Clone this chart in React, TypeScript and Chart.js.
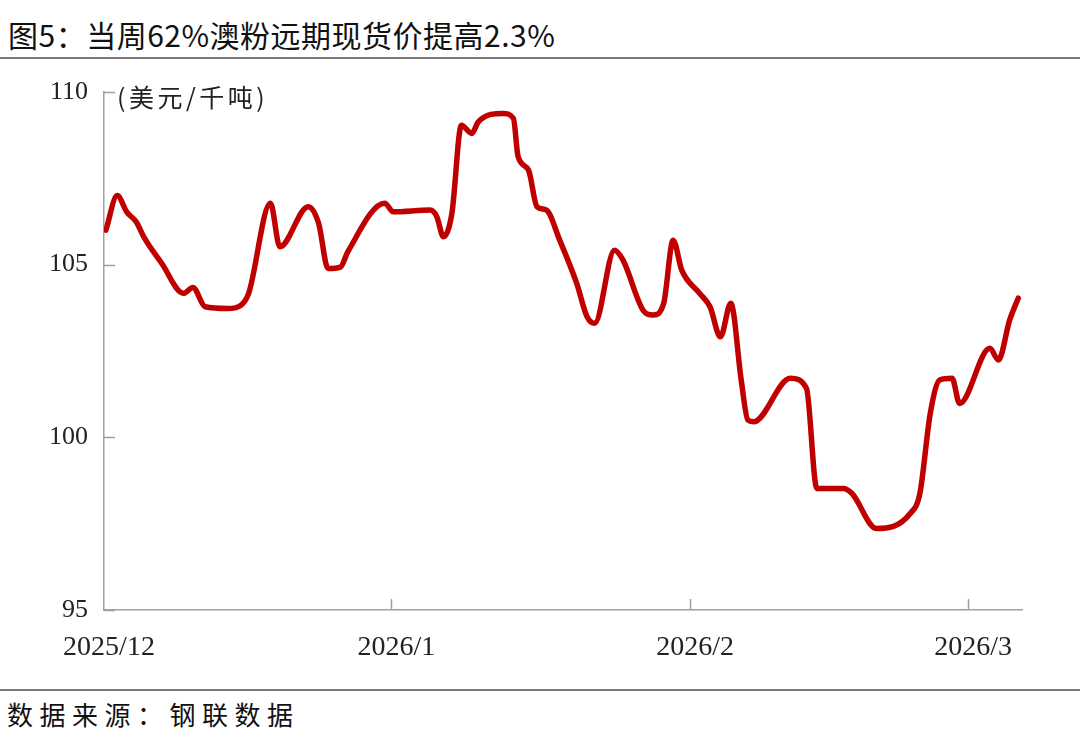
import React, { useEffect, useRef } from "react";
import { Chart, registerables } from "chart.js";

Chart.register(...registerables);

// Horizontal position of each observation (day index from 2025/12 start)
const X_POS = [
  0.2, 1.4, 2.4, 3.4, 4.3, 6.1, 8.4, 9.4, 10.7, 13.1, 14.5, 15.3, 17.6, 18.6,
  21.6, 22.7, 23.7, 25.0, 25.8, 29.7, 30.6, 34.5, 35.2, 35.9, 36.8, 37.8, 38.9,
  39.6, 42.2, 43.3, 43.8, 44.9, 45.8, 46.8, 48.2, 50.0, 51.1, 51.9, 54.0, 54.9,
  57.0, 58.1, 59.2, 60.2, 61.1, 63.0, 64.1, 65.2, 66.3, 67.4, 68.1, 68.7, 72.6,
  74.3, 75.4, 78.2, 79.1, 81.7, 85.3, 86.3, 87.4, 88.4, 89.7, 90.5, 93.7, 94.6,
  95.8, 96.7,
];

// 62% Australian fines forward spot price (USD/t)
const PRICE = [
  106.0, 107.0, 106.53, 106.24, 105.76, 105.04, 104.17, 104.34, 103.78, 103.73,
  103.83, 104.17, 106.78, 105.52, 106.68, 106.2, 104.89, 104.93, 105.38, 106.78,
  106.53, 106.58, 106.39, 105.81, 106.49, 109.04, 108.8, 109.14, 109.38, 109.24,
  108.13, 107.74, 106.68, 106.58, 105.71, 104.46, 103.49, 103.3, 105.42, 105.13,
  103.69, 103.54, 103.88, 105.71, 104.85, 104.17, 103.78, 102.91, 103.88, 101.66,
  100.5, 100.45, 101.71, 101.42, 98.52, 98.52, 98.38, 97.36, 97.8, 98.38, 100.7,
  101.66, 101.71, 100.98, 102.58, 102.24, 103.4, 104.03,
];

const MONTH_TICK_X = [0, 30.4, 62.0, 91.4];
const MONTH_LABELS = ["2025/12", "2026/1", "2026/2", "2026/3"];
const Y_TICKS = [95, 100, 105, 110];

const TITLE = "图5：当周62%澳粉远期现货价提高2.3%";
const UNIT = "(美元/千吨)";
const SOURCE = "数据来源：钢联数据";

const AXIS_COLOR = "#a0a0a0";

const innerTicks = {
  id: "innerTicks",
  afterDraw(chart: any) {
    const { ctx, chartArea, scales } = chart;
    ctx.save();
    ctx.strokeStyle = AXIS_COLOR;
    ctx.lineWidth = 1.5;
    ctx.beginPath();
    Y_TICKS.forEach((v) => {
      const py = Math.round(scales.y.getPixelForValue(v)) + 0.5;
      ctx.moveTo(chartArea.left, py);
      ctx.lineTo(chartArea.left + 11, py);
    });
    MONTH_TICK_X.forEach((v, i) => {
      if (i === 0) return;
      const px = Math.round(scales.x.getPixelForValue(v)) + 0.5;
      ctx.moveTo(px, chartArea.bottom);
      ctx.lineTo(px, chartArea.bottom - 11);
    });
    ctx.stroke();
    ctx.restore();
  },
};

export default function App() {
  const canvasRef = useRef<HTMLCanvasElement | null>(null);

  useEffect(() => {
    if (!canvasRef.current) return;
    const chart = new Chart(canvasRef.current, {
      type: "line",
      data: {
        datasets: [
          {
            data: X_POS.map((x, i) => ({ x, y: PRICE[i] })),
            borderColor: "#c00000",
            borderWidth: 5.5,
            pointRadius: 0,
            cubicInterpolationMode: "monotone",
            borderCapStyle: "round",
            borderJoinStyle: "round",
            fill: false,
          },
        ],
      },
      options: {
        animation: false,
        responsive: false,
        devicePixelRatio: 1,
        layout: { padding: { top: 32, right: 58, left: 0, bottom: 0 } },
        plugins: {
          legend: { display: false },
          tooltip: { enabled: false },
          title: { display: false },
        },
        scales: {
          x: {
            type: "linear",
            min: 0,
            max: 97.1,
            afterBuildTicks: (s: any) => {
              s.ticks = MONTH_TICK_X.map((v) => ({ value: v }));
            },
            afterFit: (s: any) => {
              s.height = 78;
            },
            ticks: {
              autoSkip: false,
              maxRotation: 0,
              padding: 21,
              labelOffset: 5,
              color: "#222",
              font: { family: "'Liberation Serif', serif", size: 28 },
              callback: (v: any) => {
                const i = MONTH_TICK_X.indexOf(Number(v));
                return i >= 0 ? MONTH_LABELS[i] : "";
              },
            },
            grid: { display: true, drawOnChartArea: false, drawTicks: false },
            border: { display: true, color: AXIS_COLOR, width: 1.5 },
          },
          y: {
            type: "linear",
            min: 95,
            max: 110,
            afterBuildTicks: (s: any) => {
              s.ticks = Y_TICKS.map((v) => ({ value: v }));
            },
            afterFit: (s: any) => {
              s.width = 104;
            },
            ticks: {
              padding: 16,
              color: "#222",
              font: { family: "'Liberation Serif', serif", size: 26 },
            },
            grid: { display: true, drawOnChartArea: false, drawTicks: false },
            border: { display: true, color: AXIS_COLOR, width: 1.5 },
          },
        },
      },
      plugins: [innerTicks],
    } as any);
    return () => chart.destroy();
  }, []);

  return (
    <div
      style={{
        position: "absolute",
        left: 0,
        top: 0,
        width: 1080,
        height: 749,
        background: "#fff",
        overflow: "hidden",
        fontFamily: "'Noto Sans CJK SC', sans-serif",
        color: "#111",
      }}
    >
      <div
        style={{
          position: "absolute",
          left: 8,
          top: 14,
          fontSize: 30,
          lineHeight: "40px",
          letterSpacing: 0.5,
          whiteSpace: "nowrap",
        }}
      >
        {TITLE}
      </div>
      <div style={{ position: "absolute", left: 0, top: 57, width: 1080, height: 2, background: "#7a7a7a" }} />
      <canvas
        ref={canvasRef}
        width={1080}
        height={628}
        style={{ position: "absolute", left: 0, top: 60, width: 1080, height: 628 }}
      />
      <div
        style={{
          position: "absolute",
          left: 117,
          top: 78,
          fontSize: 25,
          lineHeight: "36px",
          letterSpacing: 3.5,
          color: "#222",
          whiteSpace: "nowrap",
        }}
      >
        {UNIT}
      </div>
      <div style={{ position: "absolute", left: 0, top: 689, width: 1080, height: 2, background: "#7a7a7a" }} />
      <div
        style={{
          position: "absolute",
          left: 7,
          top: 696,
          fontSize: 26,
          lineHeight: "36px",
          letterSpacing: 6.5,
          whiteSpace: "nowrap",
        }}
      >
        {SOURCE}
      </div>
    </div>
  );
}
